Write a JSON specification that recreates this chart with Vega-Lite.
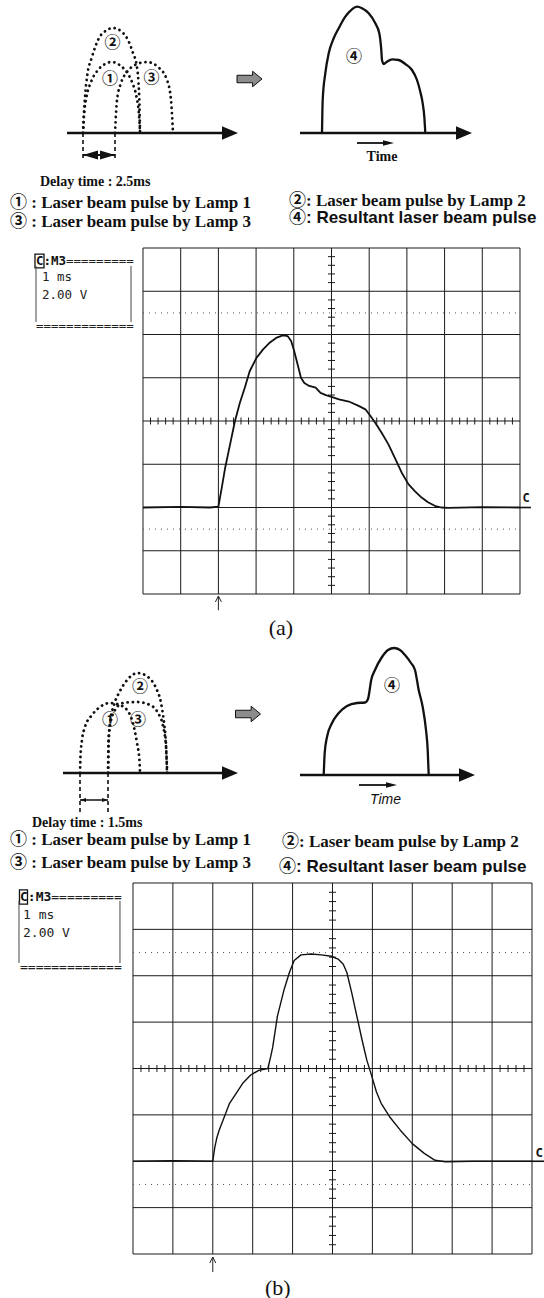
{
  "$schema": "https://vega.github.io/schema/vega-lite/v6.json",
  "padding": 0,
  "background": "white",
  "spacing": 0,
  "bounds": "flush",
  "config": {"view": {"stroke": null}, "concat": {"spacing": 0}},
  "datasets": {
    "vgrid": [{"x":0,"y":-8,"y2":8},{"x":1,"y":-8,"y2":8},{"x":2,"y":-8,"y2":8},{"x":3,"y":-8,"y2":8},{"x":4,"y":-8,"y2":8},{"x":5,"y":-8,"y2":8},{"x":6,"y":-8,"y2":8},{"x":7,"y":-8,"y2":8},{"x":8,"y":-8,"y2":8},{"x":9,"y":-8,"y2":8},{"x":10,"y":-8,"y2":8}],
    "hgrid": [{"y":-8,"x":0,"x2":10},{"y":-6,"x":0,"x2":10},{"y":-4,"x":0,"x2":10},{"y":-2,"x":0,"x2":10},{"y":0,"x":0,"x2":10},{"y":2,"x":0,"x2":10},{"y":4,"x":0,"x2":10},{"y":6,"x":0,"x2":10},{"y":8,"x":0,"x2":10}],
    "dots": [{"y":-5,"x":0,"x2":10},{"y":5,"x":0,"x2":10}],
    "xt": [{"x":0.2,"y":0},{"x":0.4,"y":0},{"x":0.6,"y":0},{"x":0.8,"y":0},{"x":1.2,"y":0},{"x":1.4,"y":0},{"x":1.6,"y":0},{"x":1.8,"y":0},{"x":2.2,"y":0},{"x":2.4,"y":0},{"x":2.6,"y":0},{"x":2.8,"y":0},{"x":3.2,"y":0},{"x":3.4,"y":0},{"x":3.6,"y":0},{"x":3.8,"y":0},{"x":4.2,"y":0},{"x":4.4,"y":0},{"x":4.6,"y":0},{"x":4.8,"y":0},{"x":5.2,"y":0},{"x":5.4,"y":0},{"x":5.6,"y":0},{"x":5.8,"y":0},{"x":6.2,"y":0},{"x":6.4,"y":0},{"x":6.6,"y":0},{"x":6.8,"y":0},{"x":7.2,"y":0},{"x":7.4,"y":0},{"x":7.6,"y":0},{"x":7.8,"y":0},{"x":8.2,"y":0},{"x":8.4,"y":0},{"x":8.6,"y":0},{"x":8.8,"y":0},{"x":9.2,"y":0},{"x":9.4,"y":0},{"x":9.6,"y":0},{"x":9.8,"y":0}],
    "yt": [{"x":5,"y":-7.6},{"x":5,"y":-7.2},{"x":5,"y":-6.8},{"x":5,"y":-6.4},{"x":5,"y":-5.6},{"x":5,"y":-5.2},{"x":5,"y":-4.8},{"x":5,"y":-4.4},{"x":5,"y":-3.6},{"x":5,"y":-3.2},{"x":5,"y":-2.8},{"x":5,"y":-2.4},{"x":5,"y":-1.6},{"x":5,"y":-1.2},{"x":5,"y":-0.8},{"x":5,"y":-0.4},{"x":5,"y":0.4},{"x":5,"y":0.8},{"x":5,"y":1.2},{"x":5,"y":1.6},{"x":5,"y":2.4},{"x":5,"y":2.8},{"x":5,"y":3.2},{"x":5,"y":3.6},{"x":5,"y":4.4},{"x":5,"y":4.8},{"x":5,"y":5.2},{"x":5,"y":5.6},{"x":5,"y":6.4},{"x":5,"y":6.8},{"x":5,"y":7.2},{"x":5,"y":7.6}],
    "traceA": [
      {"x":0,"y":-4.0},{"x":1.0,"y":-3.97},{"x":1.78,"y":-4.0},{"x":2.0,"y":-3.96},{"x":2.09,"y":-3.08},{"x":2.18,"y":-2.16},{"x":2.31,"y":-1.08},{"x":2.44,"y":0},{"x":2.57,"y":0.84},{"x":2.7,"y":1.54},{"x":2.83,"y":2.3},{"x":3.01,"y":2.92},{"x":3.18,"y":3.3},{"x":3.36,"y":3.62},{"x":3.53,"y":3.84},{"x":3.71,"y":3.96},{"x":3.84,"y":3.92},{"x":3.93,"y":3.7},{"x":4.01,"y":3.24},{"x":4.1,"y":2.62},{"x":4.19,"y":2.0},{"x":4.28,"y":1.76},{"x":4.41,"y":1.62},{"x":4.58,"y":1.54},{"x":4.71,"y":1.3},{"x":4.85,"y":1.2},{"x":5.02,"y":1.1},{"x":5.2,"y":1.0},{"x":5.46,"y":0.9},{"x":5.72,"y":0.7},{"x":5.9,"y":0.54},{"x":6.03,"y":0.24},{"x":6.16,"y":-0.08},{"x":6.33,"y":-0.54},{"x":6.51,"y":-1.08},{"x":6.68,"y":-1.7},{"x":6.86,"y":-2.38},{"x":7.04,"y":-2.92},{"x":7.21,"y":-3.24},{"x":7.39,"y":-3.54},{"x":7.56,"y":-3.76},{"x":7.74,"y":-3.92},{"x":7.91,"y":-4.0},{"x":8.09,"y":-4.02},{"x":9.0,"y":-3.98},{"x":10.0,"y":-4.0}
    ],
    "traceB": [
      {"x":0,"y":-4.0},{"x":1.0,"y":-3.98},{"x":2.0,"y":-4.0},{"x":2.05,"y":-3.4},{"x":2.1,"y":-3.0},{"x":2.16,"y":-2.66},{"x":2.29,"y":-2.08},{"x":2.42,"y":-1.5},{"x":2.59,"y":-1.06},{"x":2.75,"y":-0.64},{"x":2.95,"y":-0.28},{"x":3.15,"y":-0.08},{"x":3.38,"y":0.0},{"x":3.45,"y":0.5},{"x":3.5,"y":0.9},{"x":3.62,"y":2.26},{"x":3.79,"y":3.42},{"x":3.92,"y":4.14},{"x":4.04,"y":4.66},{"x":4.21,"y":4.9},{"x":4.47,"y":4.94},{"x":4.72,"y":4.9},{"x":4.97,"y":4.84},{"x":5.14,"y":4.72},{"x":5.27,"y":4.5},{"x":5.36,"y":4.14},{"x":5.48,"y":3.28},{"x":5.61,"y":2.26},{"x":5.74,"y":1.24},{"x":5.86,"y":0.36},{"x":5.99,"y":-0.36},{"x":6.1,"y":-1.0},{"x":6.22,"y":-1.5},{"x":6.43,"y":-2.08},{"x":6.7,"y":-2.66},{"x":7.0,"y":-3.24},{"x":7.3,"y":-3.66},{"x":7.57,"y":-3.96},{"x":7.83,"y":-4.02},{"x":8.5,"y":-4.0},{"x":10,"y":-4.0}
    ]
  },
  "vconcat": [
    {
      "width": 544,
      "height": 240,
      "encoding": {
        "x": {"field": "x", "type": "quantitative", "scale": {"domain": [0, 544], "nice": false, "zero": false}, "axis": null},
        "y": {"field": "y", "type": "quantitative", "scale": {"domain": [-107, 133], "nice": false, "zero": false}, "axis": null}
      },
      "layer": [
        {"data": {"values": [{"x":67,"x2":224,"y":0},{"x":300,"x2":458,"y":0}]}, "mark": {"type": "rule", "color": "#111", "strokeWidth": 2.6}, "encoding": {"x2": {"field": "x2"}}},
        {"data": {"values": [{"x":230,"y":0},{"x":464,"y":0}]}, "mark": {"type": "point", "shape": "M-1,-0.85L1,0L-1,0.85Z", "filled": true, "size": 256, "color": "#111", "opacity": 1}},
        {"data": {"values": [
          {"arc":"1","x":83,"y":0},{"arc":"1","x":84,"y":18},{"arc":"1","x":86.5,"y":36},{"arc":"1","x":91,"y":51},{"arc":"1","x":98,"y":63},{"arc":"1","x":105,"y":69},{"arc":"1","x":111.5,"y":71},{"arc":"1","x":118,"y":69},{"arc":"1","x":125,"y":63},{"arc":"1","x":132,"y":51},{"arc":"1","x":136.5,"y":36},{"arc":"1","x":139,"y":18},{"arc":"1","x":140,"y":0},
          {"arc":"2","x":83,"y":0},{"arc":"2","x":85,"y":36},{"arc":"2","x":87,"y":56},{"arc":"2","x":92,"y":76},{"arc":"2","x":98,"y":93},{"arc":"2","x":107,"y":103},{"arc":"2","x":113,"y":105},{"arc":"2","x":122,"y":101},{"arc":"2","x":128,"y":93},{"arc":"2","x":133,"y":80},{"arc":"2","x":137,"y":66},{"arc":"2","x":138.5,"y":50},{"arc":"2","x":139.5,"y":26},{"arc":"2","x":140,"y":0},
          {"arc":"3","x":115,"y":0},{"arc":"3","x":117,"y":33},{"arc":"3","x":121,"y":50},{"arc":"3","x":127,"y":61},{"arc":"3","x":135,"y":68},{"arc":"3","x":147,"y":71},{"arc":"3","x":158,"y":66},{"arc":"3","x":167,"y":53},{"arc":"3","x":171,"y":33},{"arc":"3","x":173,"y":0}
        ]}, "mark": {"type": "line", "interpolate": "monotone", "strokeDash": [0.1, 5.2], "strokeCap": "round", "strokeWidth": 2.8, "color": "#111"}, "encoding": {"detail": {"field": "arc"}}},
        {"data": {"values": [{"x":110,"y":54,"label":"①"},{"x":112.5,"y":90,"label":"②"},{"x":151.5,"y":55,"label":"③"},{"x":354,"y":76,"label":"④"}]}, "mark": {"type": "text", "font": "Noto Sans CJK JP", "fontSize": 16, "fontWeight": "bold", "color": "#111", "baseline": "middle"}, "encoding": {"text": {"field": "label"}}},
        {"data": {"values": [{"x":83,"y":0,"y2":-27},{"x":115,"y":0,"y2":-27}]}, "mark": {"type": "rule", "strokeDash": [4, 3], "strokeWidth": 1.6, "color": "#111"}, "encoding": {"y2": {"field": "y2"}}},
        {"data": {"values": [{"x":83,"x2":115,"y":-22}]}, "mark": {"type": "rule", "strokeWidth": 2, "color": "#111"}, "encoding": {"x2": {"field": "x2"}}},
        {"data": {"values": [{"x":90.5,"y":-22}]}, "mark": {"type": "point", "shape": "M1,-0.6L-1,0L1,0.6Z", "filled": true, "size": 225, "color": "#111", "opacity": 1}},
        {"data": {"values": [{"x":107.5,"y":-22}]}, "mark": {"type": "point", "shape": "M-1,-0.6L1,0L-1,0.6Z", "filled": true, "size": 225, "color": "#111", "opacity": 1}},
        {"data": {"values": [{"x":249.5,"y":54}]}, "mark": {"type": "point", "shape": "M-1,-0.3L0.25,-0.3L0.25,-0.62L1,0L0.25,0.62L0.25,0.3L-1,0.3Z", "filled": true, "size": 625, "fill": "#8c8c8c", "stroke": "#111", "strokeWidth": 1, "opacity": 1}},
        {"data": {"values": [
          {"x":322,"y":0},{"x":322.7,"y":33},{"x":325.3,"y":59.7},{"x":328.7,"y":79.7},{"x":333.7,"y":94.7},{"x":338.7,"y":104.7},{"x":345.3,"y":116.3},{"x":352,"y":123.7},{"x":357,"y":126.3},{"x":362,"y":124.7},{"x":368.7,"y":119.7},{"x":375.3,"y":109.7},{"x":379.3,"y":99.7},{"x":381.3,"y":83},{"x":382,"y":73},{"x":383.7,"y":69},{"x":387,"y":71.3},{"x":392,"y":73.7},{"x":398.7,"y":73},{"x":405.3,"y":69},{"x":412,"y":63},{"x":417,"y":53},{"x":420.3,"y":41.3},{"x":422.7,"y":29.7},{"x":424.3,"y":16.3},{"x":425.3,"y":0}
        ]}, "mark": {"type": "line", "interpolate": "monotone", "strokeWidth": 2.3, "color": "#111"}},
        {"data": {"values": [{"x":357,"x2":384,"y":-10}]}, "mark": {"type": "rule", "strokeWidth": 1.8, "color": "#111"}, "encoding": {"x2": {"field": "x2"}}},
        {"data": {"values": [{"x":388.5,"y":-10}]}, "mark": {"type": "point", "shape": "M-1,-0.5L1,0L-1,0.5Z", "filled": true, "size": 121, "color": "#111", "opacity": 1}},
        {"data": {"values": [{"x":382,"y":-24,"label":"Time"}]}, "mark": {"type": "text", "font": "Liberation Serif", "fontSize": 14, "fontWeight": "bold", "color": "#111", "baseline": "middle", "align": "center"}, "encoding": {"text": {"field": "label"}}},
        {"data": {"values": [{"x":40,"y":-49,"label":"Delay time : 2.5ms"}]}, "mark": {"type": "text", "font": "Liberation Serif", "fontSize": 14, "fontWeight": "bold", "color": "#111", "baseline": "middle", "align": "left"}, "encoding": {"text": {"field": "label"}}},
        {"data": {"values": [{"x":10,"y":-70,"label":"① : Laser beam pulse by Lamp 1"},{"x":10,"y":-89,"label":"③ : Laser beam pulse by Lamp 3"},{"x":289,"y":-68,"label":"②: Laser beam pulse by Lamp 2"}]}, "mark": {"type": "text", "font": "Liberation Serif, Noto Sans CJK JP", "fontSize": 17, "fontWeight": "bold", "color": "#111", "baseline": "middle", "align": "left"}, "encoding": {"text": {"field": "label"}}},
        {"data": {"values": [{"x":289,"y":-85,"label":"④: Resultant laser beam pulse"}]}, "mark": {"type": "text", "font": "Liberation Sans, Noto Sans CJK JP", "fontSize": 17, "fontWeight": "bold", "color": "#111", "baseline": "middle", "align": "left"}, "encoding": {"text": {"field": "label"}}}
      ]
    },
    {
      "width": 544,
      "height": 400,
      "encoding": {
        "x": {"field": "x", "type": "quantitative", "scale": {"domain": [-3.793, 10.637], "nice": false, "zero": false}, "axis": null},
        "y": {"field": "y", "type": "quantitative", "scale": {"domain": [-10.127, 8.37], "nice": false, "zero": false}, "axis": null}
      },
      "layer": [
        {"data": {"name": "vgrid"}, "mark": {"type": "rule", "color": "#1a1a1a", "strokeWidth": 1}, "encoding": {"y2": {"field": "y2"}}},
        {"data": {"name": "hgrid"}, "mark": {"type": "rule", "color": "#1a1a1a", "strokeWidth": 1}, "encoding": {"x2": {"field": "x2"}}},
        {"data": {"name": "dots"}, "mark": {"type": "rule", "color": "#555", "strokeWidth": 1, "strokeDash": [1, 5]}, "encoding": {"x2": {"field": "x2"}}},
        {"data": {"name": "xt"}, "mark": {"type": "tick", "orient": "vertical", "size": 7, "thickness": 1, "color": "#1a1a1a", "opacity": 1}},
        {"data": {"name": "yt"}, "mark": {"type": "tick", "orient": "horizontal", "size": 7, "thickness": 1, "color": "#1a1a1a", "opacity": 1}},
        {"data": {"name": "traceA"}, "mark": {"type": "line", "color": "#111", "strokeWidth": 1.8, "strokeJoin": "round"}},
        {"data": {"values": [{"x":-2.865,"x2":-2.626,"y":7.72,"y2":7.08}]}, "mark": {"type": "rect", "fill": null, "stroke": "#111", "strokeWidth": 1.3}, "encoding": {"x2": {"field": "x2"}, "y2": {"field": "y2"}}},
        {"data": {"values": [{"x":-2.838,"y":7.17,"y2":4.58},{"x":-0.318,"y":7.17,"y2":4.58}]}, "mark": {"type": "rule", "color": "#444", "strokeWidth": 1}, "encoding": {"y2": {"field": "y2"}}},
        {"data": {"values": [{"x":-2.838,"y":7.4,"label":"C:M3"}]}, "mark": {"type": "text", "font": "DejaVu Sans Mono", "fontSize": 12.5, "fontWeight": "bold", "color": "#111", "baseline": "middle", "align": "left"}, "encoding": {"text": {"field": "label"}}},
        {"data": {"values": [{"x":-2.042,"y":7.4,"label":"========="},{"x":-2.838,"y":4.39,"label":"============="},{"x":-2.679,"y":6.66,"label":"1  ms"},{"x":-2.679,"y":5.83,"label":"2.00 V"}]}, "mark": {"type": "text", "font": "DejaVu Sans Mono", "fontSize": 12.5, "color": "#222", "baseline": "middle", "align": "left"}, "encoding": {"text": {"field": "label"}}},
        {"data": {"values": [{"x":10.16,"y":-3.56,"label":"C"}]}, "mark": {"type": "text", "font": "DejaVu Sans Mono", "fontSize": 12, "fontWeight": "bold", "color": "#111", "baseline": "middle", "align": "center"}, "encoding": {"text": {"field": "label"}}},
        {"data": {"values": [{"x":10,"x2":10.29,"y":-4}]}, "mark": {"type": "rule", "color": "#111", "strokeWidth": 1.6}, "encoding": {"x2": {"field": "x2"}}},
        {"data": {"values": [{"x":2,"y":-8.1,"y2":-8.75}]}, "mark": {"type": "rule", "color": "#222", "strokeWidth": 1}, "encoding": {"y2": {"field": "y2"}}},
        {"data": {"values": [{"x":2,"y":-8.23}]}, "mark": {"type": "point", "shape": "M-1,1L0,-1L1,1", "filled": false, "size": 36, "stroke": "#222", "strokeWidth": 1, "opacity": 1}},
        {"data": {"values": [{"x":3.66,"y":-9.57,"label":"(a)"}]}, "mark": {"type": "text", "font": "Liberation Serif", "fontSize": 22, "color": "#111", "baseline": "middle", "align": "center"}, "encoding": {"text": {"field": "label"}}}
      ]
    },
    {
      "width": 544,
      "height": 235,
      "encoding": {
        "x": {"field": "x", "type": "quantitative", "scale": {"domain": [0, 544], "nice": false, "zero": false}, "axis": null},
        "y": {"field": "y", "type": "quantitative", "scale": {"domain": [-102, 133], "nice": false, "zero": false}, "axis": null}
      },
      "layer": [
        {"data": {"values": [{"x":63,"x2":224,"y":0},{"x":300,"x2":461,"y":-2}]}, "mark": {"type": "rule", "color": "#111", "strokeWidth": 2.6}, "encoding": {"x2": {"field": "x2"}}},
        {"data": {"values": [{"x":230,"y":0},{"x":467,"y":-2}]}, "mark": {"type": "point", "shape": "M-1,-0.85L1,0L-1,0.85Z", "filled": true, "size": 256, "color": "#111", "opacity": 1}},
        {"data": {"values": [
          {"arc":"1","x":80,"y":0},{"arc":"1","x":80.5,"y":17},{"arc":"1","x":82,"y":33},{"arc":"1","x":85,"y":46},{"arc":"1","x":92,"y":58},{"arc":"1","x":100,"y":66},{"arc":"1","x":110,"y":70},{"arc":"1","x":120,"y":68},{"arc":"1","x":127,"y":63},{"arc":"1","x":132,"y":53},{"arc":"1","x":137,"y":30},{"arc":"1","x":139.5,"y":12},{"arc":"1","x":140,"y":0},
          {"arc":"2","x":108,"y":0},{"arc":"2","x":108.5,"y":30},{"arc":"2","x":110,"y":50},{"arc":"2","x":114,"y":68},{"arc":"2","x":120,"y":82},{"arc":"2","x":128,"y":94},{"arc":"2","x":138,"y":100},{"arc":"2","x":148,"y":96},{"arc":"2","x":156,"y":85},{"arc":"2","x":161,"y":70},{"arc":"2","x":164,"y":50},{"arc":"2","x":166,"y":28},{"arc":"2","x":167,"y":0},
          {"arc":"3","x":108.2,"y":0},{"arc":"3","x":108.7,"y":33},{"arc":"3","x":110.5,"y":50},{"arc":"3","x":115,"y":63},{"arc":"3","x":123,"y":70},{"arc":"3","x":137,"y":71},{"arc":"3","x":150,"y":68},{"arc":"3","x":158,"y":60},{"arc":"3","x":163,"y":47},{"arc":"3","x":166,"y":27},{"arc":"3","x":167.2,"y":0}
        ]}, "mark": {"type": "line", "interpolate": "monotone", "strokeDash": [0.1, 5.2], "strokeCap": "round", "strokeWidth": 2.8, "color": "#111"}, "encoding": {"detail": {"field": "arc"}}},
        {"data": {"values": [{"x":110,"y":53,"label":"①"},{"x":140,"y":86,"label":"②"},{"x":138,"y":53,"label":"③"},{"x":392,"y":87,"label":"④"}]}, "mark": {"type": "text", "font": "Noto Sans CJK JP", "fontSize": 16, "fontWeight": "bold", "color": "#111", "baseline": "middle"}, "encoding": {"text": {"field": "label"}}},
        {"data": {"values": [{"x":80,"y":0,"y2":-39},{"x":108,"y":0,"y2":-39}]}, "mark": {"type": "rule", "strokeDash": [4, 3], "strokeWidth": 1.6, "color": "#111"}, "encoding": {"y2": {"field": "y2"}}},
        {"data": {"values": [{"x":80,"x2":108,"y":-27}]}, "mark": {"type": "rule", "strokeWidth": 1.5, "color": "#111"}, "encoding": {"x2": {"field": "x2"}}},
        {"data": {"values": [{"x":83,"y":-27}]}, "mark": {"type": "point", "shape": "M1,-0.7L-1,0L1,0.7Z", "filled": true, "size": 36, "color": "#111", "opacity": 1}},
        {"data": {"values": [{"x":105,"y":-27}]}, "mark": {"type": "point", "shape": "M-1,-0.7L1,0L-1,0.7Z", "filled": true, "size": 36, "color": "#111", "opacity": 1}},
        {"data": {"values": [{"x":248,"y":59}]}, "mark": {"type": "point", "shape": "M-1,-0.3L0.25,-0.3L0.25,-0.62L1,0L0.25,0.62L0.25,0.3L-1,0.3Z", "filled": true, "size": 625, "fill": "#8c8c8c", "stroke": "#111", "strokeWidth": 1, "opacity": 1}},
        {"data": {"values": [
          {"x":323.7,"y":-2},{"x":324.7,"y":20},{"x":327,"y":36},{"x":332,"y":50},{"x":338.7,"y":60},{"x":347,"y":67},{"x":357,"y":70},{"x":365,"y":70.5},{"x":368,"y":74},{"x":369.5,"y":82},{"x":371,"y":92},{"x":375,"y":103},{"x":382,"y":116},{"x":388,"y":123},{"x":394,"y":125},{"x":400,"y":123},{"x":405,"y":118},{"x":411,"y":110},{"x":415,"y":103},{"x":418.7,"y":83},{"x":422.7,"y":66},{"x":426,"y":43},{"x":427.7,"y":23},{"x":428.7,"y":-2}
        ]}, "mark": {"type": "line", "interpolate": "monotone", "strokeWidth": 2.3, "color": "#111"}},
        {"data": {"values": [{"x":359,"x2":387,"y":-12}]}, "mark": {"type": "rule", "strokeWidth": 1.8, "color": "#111"}, "encoding": {"x2": {"field": "x2"}}},
        {"data": {"values": [{"x":391.5,"y":-12}]}, "mark": {"type": "point", "shape": "M-1,-0.5L1,0L-1,0.5Z", "filled": true, "size": 121, "color": "#111", "opacity": 1}},
        {"data": {"values": [{"x":385.5,"y":-27,"label":"Time"}]}, "mark": {"type": "text", "font": "Liberation Sans", "fontSize": 14, "fontStyle": "italic", "color": "#111", "baseline": "middle", "align": "center"}, "encoding": {"text": {"field": "label"}}},
        {"data": {"values": [{"x":32,"y":-50,"label":"Delay time : 1.5ms"}]}, "mark": {"type": "text", "font": "Liberation Serif", "fontSize": 14, "fontWeight": "bold", "color": "#111", "baseline": "middle", "align": "left"}, "encoding": {"text": {"field": "label"}}},
        {"data": {"values": [{"x":10,"y":-67,"label":"① : Laser beam pulse by Lamp 1"},{"x":10,"y":-90,"label":"③ : Laser beam pulse by Lamp 3"},{"x":282,"y":-69,"label":"②: Laser beam pulse by Lamp 2"}]}, "mark": {"type": "text", "font": "Liberation Serif, Noto Sans CJK JP", "fontSize": 17, "fontWeight": "bold", "color": "#111", "baseline": "middle", "align": "left"}, "encoding": {"text": {"field": "label"}}},
        {"data": {"values": [{"x":279,"y":-94,"label":"④: Resultant laser beam pulse"}]}, "mark": {"type": "text", "font": "Liberation Sans, Noto Sans CJK JP", "fontSize": 17, "fontWeight": "bold", "color": "#111", "baseline": "middle", "align": "left"}, "encoding": {"text": {"field": "label"}}}
      ]
    },
    {
      "width": 544,
      "height": 423,
      "encoding": {
        "x": {"field": "x", "type": "quantitative", "scale": {"domain": [-3.333, 10.301], "nice": false, "zero": false}, "axis": null},
        "y": {"field": "y", "type": "quantitative", "scale": {"domain": [-9.898, 8.345], "nice": false, "zero": false}, "axis": null}
      },
      "layer": [
        {"data": {"name": "vgrid"}, "mark": {"type": "rule", "color": "#1a1a1a", "strokeWidth": 1}, "encoding": {"y2": {"field": "y2"}}},
        {"data": {"name": "hgrid"}, "mark": {"type": "rule", "color": "#1a1a1a", "strokeWidth": 1}, "encoding": {"x2": {"field": "x2"}}},
        {"data": {"name": "dots"}, "mark": {"type": "rule", "color": "#555", "strokeWidth": 1, "strokeDash": [1, 5]}, "encoding": {"x2": {"field": "x2"}}},
        {"data": {"name": "xt"}, "mark": {"type": "tick", "orient": "vertical", "size": 7, "thickness": 1, "color": "#1a1a1a", "opacity": 1}},
        {"data": {"name": "yt"}, "mark": {"type": "tick", "orient": "horizontal", "size": 7, "thickness": 1, "color": "#1a1a1a", "opacity": 1}},
        {"data": {"name": "traceB"}, "mark": {"type": "line", "color": "#111", "strokeWidth": 1.4, "strokeJoin": "round"}},
        {"data": {"values": [{"x":-2.845,"x2":-2.644,"y":7.7,"y2":7.09}]}, "mark": {"type": "rect", "fill": null, "stroke": "#111", "strokeWidth": 1.3}, "encoding": {"x2": {"field": "x2"}, "y2": {"field": "y2"}}},
        {"data": {"values": [{"x":-2.857,"y":7.23,"y2":4.55},{"x":-0.326,"y":7.23,"y2":4.55}]}, "mark": {"type": "rule", "color": "#444", "strokeWidth": 1}, "encoding": {"y2": {"field": "y2"}}},
        {"data": {"values": [{"x":-2.832,"y":7.4,"label":"C:M3"}]}, "mark": {"type": "text", "font": "DejaVu Sans Mono", "fontSize": 13, "fontWeight": "bold", "color": "#111", "baseline": "middle", "align": "left"}, "encoding": {"text": {"field": "label"}}},
        {"data": {"values": [{"x":-2.048,"y":7.4,"label":"========="},{"x":-2.832,"y":4.38,"label":"============="},{"x":-2.757,"y":6.62,"label":"1  ms"},{"x":-2.757,"y":5.84,"label":"2.00 V"}]}, "mark": {"type": "text", "font": "DejaVu Sans Mono", "fontSize": 13, "color": "#222", "baseline": "middle", "align": "left"}, "encoding": {"text": {"field": "label"}}},
        {"data": {"values": [{"x":10.18,"y":-3.64,"label":"C"}]}, "mark": {"type": "text", "font": "DejaVu Sans Mono", "fontSize": 12.5, "fontWeight": "bold", "color": "#111", "baseline": "middle", "align": "center"}, "encoding": {"text": {"field": "label"}}},
        {"data": {"values": [{"x":10,"x2":10.3,"y":-4}]}, "mark": {"type": "rule", "color": "#111", "strokeWidth": 1.6}, "encoding": {"x2": {"field": "x2"}}},
        {"data": {"values": [{"x":2,"y":-8.13,"y2":-8.78}]}, "mark": {"type": "rule", "color": "#222", "strokeWidth": 1}, "encoding": {"y2": {"field": "y2"}}},
        {"data": {"values": [{"x":2,"y":-8.26}]}, "mark": {"type": "point", "shape": "M-1,1L0,-1L1,1", "filled": false, "size": 36, "stroke": "#222", "strokeWidth": 1, "opacity": 1}},
        {"data": {"values": [{"x":3.63,"y":-9.47,"label":"(b)"}]}, "mark": {"type": "text", "font": "Liberation Serif", "fontSize": 22, "color": "#111", "baseline": "middle", "align": "center"}, "encoding": {"text": {"field": "label"}}}
      ]
    }
  ]
}
